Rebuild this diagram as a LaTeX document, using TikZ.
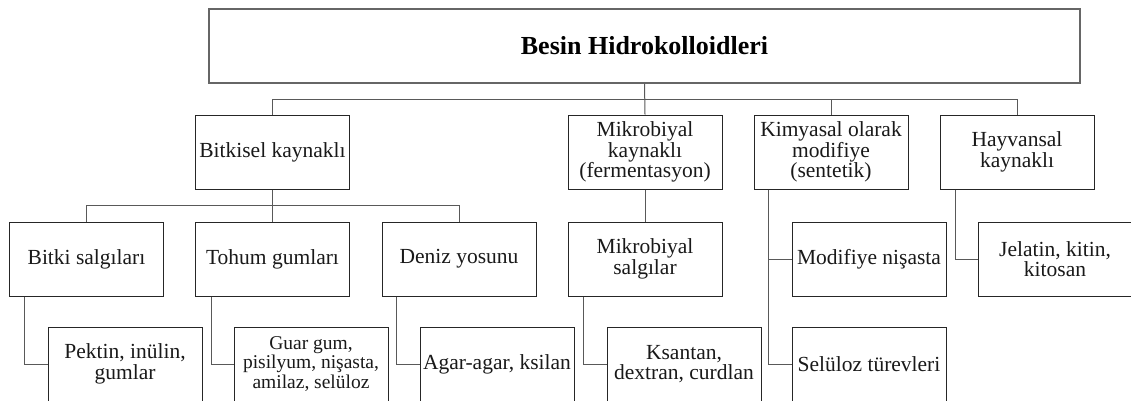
\documentclass[tikz,border=0pt]{standalone}
\usepackage{fontspec}
\setmainfont{Liberation Serif}
\usetikzlibrary{calc}
\tikzset{
  box/.style={draw=black!85, line width=1pt, minimum width=154pt, minimum height=74pt,
    inner sep=0pt, align=center, text=black!90,
    font=\fontsize{21.5}{20.5}\selectfont},
  smallbox/.style={box, font=\fontsize{19.5}{19.5}\selectfont},
  titlebox/.style={draw=black!60, line width=1.3pt, minimum width=871pt, minimum height=74pt,
    inner sep=0pt, text=black, font=\fontsize{26}{28}\selectfont\bfseries},
  conn/.style={draw=black!65, line width=1pt}
}
\begin{document}
\begin{tikzpicture}[x=1pt,y=-1pt]
\useasboundingbox (0,0) rectangle (1131,400);
\fill[white] (0,0) rectangle (1131,400);
% top
\node[titlebox] (top) at (644.5,46) {Besin Hidrokolloidleri};
% level 1
\node[box] (bitk) at (272.5,152) {Bitkisel kaynaklı};
\node[box] (mikk) at (645,152) {Mikrobiyal\\kaynaklı\\(fermentasyon)};
\node[box] (kimy) at (831,152) {Kimyasal olarak\\modifiye\\(sentetik)};
\node[box] (hayv) at (1017,152) {Hayvansal\\kaynaklı};
% level 2
\node[box] (bsal) at (86.5,259) {Bitki salgıları};
\node[box] (tohum) at (272.5,259) {Tohum gumları};
\node[box] (deniz) at (459,259) {Deniz yosunu};
\node[box] (msal) at (645,259) {Mikrobiyal\\salgılar};
\node[box] (modn) at (869,259) {Modifiye nişasta};
\node[box] (jel) at (1055,259) {Jelatin, kitin,\\kitosan};
% level 3
\node[box] (pekt) at (125,364) {Pektin, inülin,\\gumlar};
\node[smallbox] (guar) at (311,364) {Guar gum,\\pisilyum, nişasta,\\amilaz, selüloz};
\node[box] (agar) at (497,364) {Agar-agar, ksilan};
\node[box] (ksan) at (684,364) {Ksantan,\\dextran, curdlan};
\node[box] (selu) at (869,364) {Selüloz türevleri};
% buses
\coordinate (bus1) at (0,99);
\coordinate (bus2) at (0,205);
\draw[conn] (top.south) -- (mikk.north);
\draw[conn] (bitk.north) -- (bitk.north |- bus1) -- (hayv.north |- bus1) -- (hayv.north);
\draw[conn] (kimy.north) -- (kimy.north |- bus1);
\draw[conn] (bitk.south) -- (tohum.north);
\draw[conn] (bsal.north) -- (bsal.north |- bus2) -- (deniz.north |- bus2) -- (deniz.north);
\draw[conn] (mikk.south) -- (msal.north);
% side links
\draw[conn] ($(bsal.south west)+(15.5,0)$) |- (pekt.west);
\draw[conn] ($(tohum.south west)+(16.5,0)$) |- (guar.west);
\draw[conn] ($(deniz.south west)+(15,0)$) |- (agar.west);
\draw[conn] ($(msal.south west)+(16,0)$) |- (ksan.west);
\draw[conn] ($(kimy.south west)+(15,0)$) |- (selu.west);
\draw[conn] ($(kimy.south west)+(15,0)$) |- (modn.west);
\draw[conn] ($(hayv.south west)+(16,0)$) |- (jel.west);
\end{tikzpicture}
\end{document}
